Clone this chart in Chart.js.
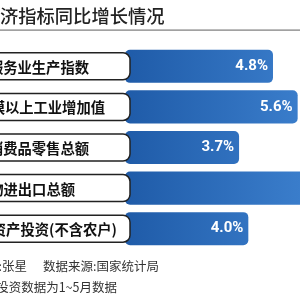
<!DOCTYPE html>
<html>
<head>
<meta charset="utf-8">
<script src="https://cdn.jsdelivr.net/npm/chart.js@4"></script>
<style>
  html, body { margin: 0; padding: 0; background: #fff; }
  #wrap { width: 300px; height: 300px; position: relative; }
</style>
</head>
<body>
<div id="wrap"><canvas id="growthChart"></canvas></div>
<script>
// data
var categories = ['服务业生产指数', '规模以上工业增加值', '社会消费品零售总额', '货物进出口总额', '固定资产投资(不含农户)']
var growth = [4.8, 5.6, 3.7, 8.6, 4.0]
var titleText = '经济指标同比增长情况'
var creditText = '制图:张星'
var sourceText = '数据来源:国家统计局'
var noteText = '注:固定资产投资数据为1~5月数据'

// where each label text ends (the left part is cut off in the picture)
var labelRight = [89, 105, 89, 75, 117]

var cjk = '"Noto Sans CJK SC", sans-serif'

var decor = {
  id: 'decor',
  afterDatasetsDraw(chart) {
    var ctx = chart.ctx
    var meta = chart.getDatasetMeta(0)
    ctx.save()
    meta.data.forEach(function (bar, i) {
      var y = bar.y
      // white label box
      ctx.beginPath()
      ctx.roundRect(-12, y - 13.5, 142, 27, 7)
      ctx.fillStyle = '#fff'
      ctx.fill()
      ctx.lineWidth = 1.5
      ctx.strokeStyle = '#222'
      ctx.stroke()

      ctx.fillStyle = '#111'
      ctx.font = 'bold 14.3px ' + cjk
      ctx.textAlign = 'right'
      ctx.textBaseline = 'middle'
      ctx.fillText(categories[i], labelRight[i], y + 1)

      // value
      ctx.fillStyle = '#fff'
      ctx.font = 'bold 15px Roboto, sans-serif'
      ctx.fillText(growth[i].toFixed(1) + '%', bar.x - 5, y)
    })

    // title + rule
    ctx.fillStyle = '#222'
    ctx.font = '500 18.3px ' + cjk
    ctx.textAlign = 'left'
    ctx.textBaseline = 'middle'
    ctx.fillText(titleText, -18.3, 16)
    ctx.fillStyle = '#7a7a7a'
    ctx.fillRect(0, 29.5, 300, 1.2)

    // footer
    ctx.fillStyle = '#333'
    ctx.font = '12.5px ' + cjk
    ctx.textAlign = 'right'
    ctx.fillText(creditText, 27, 266)
    ctx.fillText(sourceText, 159, 266)
    ctx.fillText(noteText, 117, 287)
    ctx.restore()
  }
}

new Chart('growthChart', {
  type: 'bar',
  data: {
    labels: categories,
    datasets: [{
      data: growth,
      backgroundColor: function (c) {
        var area = c.chart.chartArea
        if (!area) return '#2a6bb9'
        var g = c.chart.ctx.createLinearGradient(area.left, 0, area.right, 0)
        g.addColorStop(0, '#1f5ba8')
        g.addColorStop(1, '#3a7dcb')
        return g
      },
      borderRadius: 5,
      borderSkipped: false,
      barPercentage: 0.815,
      categoryPercentage: 1
    }]
  },
  options: {
    indexAxis: 'y',
    responsive: true,
    maintainAspectRatio: false,
    animation: false,
    layout: { padding: { left: 125, right: 0, top: 46, bottom: 51 } },
    scales: {
      x: { display: false, min: 0, max: 5.676 },
      y: { display: false }
    },
    plugins: {
      legend: { display: false },
      tooltip: { enabled: false }
    }
  },
  plugins: [decor]
})
</script>
</body>
</html>
